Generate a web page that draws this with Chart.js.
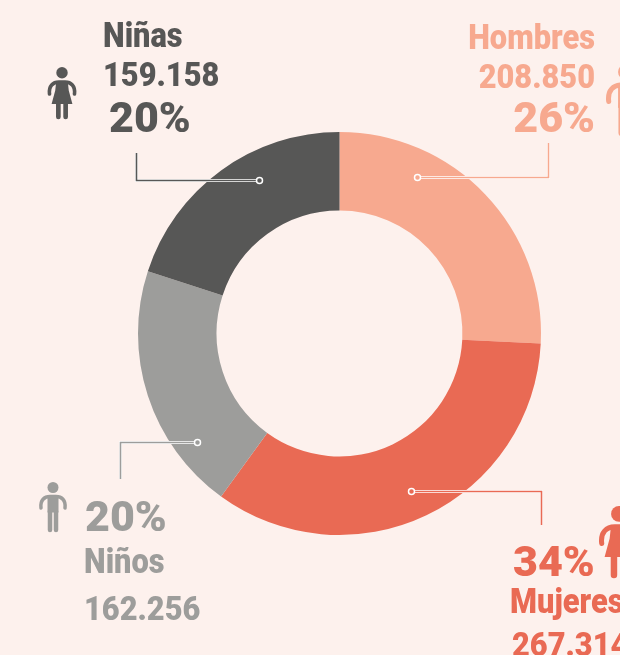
<!DOCTYPE html>
<html>
<head>
<meta charset="utf-8">
<script src="https://cdn.jsdelivr.net/npm/chart.js@4"></script>
<style>
  html, body { margin: 0; padding: 0; background: #fdf1ed; overflow: hidden; }
  #wrap { width: 620px; height: 655px; position: relative; }
</style>
</head>
<body>
<div id="wrap"><canvas id="donut" width="620" height="655"></canvas></div>
<script>
const categories = ["Hombres", "Mujeres", "Niños", "Niñas"];
// slice shares as drawn in the picture
const shares = [25.8, 34.2, 20, 20];
const valueLabels = ["208.850", "267.314", "162.256", "159.158"];
const percentLabels = ["26%", "34%", "20%", "20%"];
const colors = ["#f7a98f", "#e96a54", "#9d9d9b", "#575756"];

// text placement: [x, baseline y, align, size, horizontal squeeze]
const nameText = [
  [595, 49, "right", 35, 0.88],
  [510, 613, "left", 35, 0.88],
  [84, 573, "left", 35, 0.88],
  [103, 47, "left", 35, 0.88]
];
const valueText = [
  [595, 88, "right", 34, 0.905],
  [512, 656, "left", 34, 0.905],
  [84, 620, "left", 34, 0.905],
  [103, 86, "left", 34, 0.905]
];
const percentText = [
  [595, 132, "right", 43, 1],
  [513, 576, "left", 43, 1],
  [85, 531, "left", 43, 1],
  [109, 132, "left", 43, 1]
];
// leader lines: dot, elbow, end
const leaders = [
  [[417.5, 177.5], [548.5, 177.5], [548.5, 143]],
  [[411.5, 491.5], [541.5, 491.5], [541.5, 525]],
  [[197.5, 442.5], [120.5, 442.5], [120.5, 479]],
  [[259.5, 180.5], [136.5, 180.5], [136.5, 153]]
];
// icons: center x, top, height, woman?
const icons = [
  [626, 64, 72, false],
  [619, 506, 72, true],
  [53, 482, 50, false],
  [62, 67, 52, true]
];

function person(ctx, cx, top, h, color, woman) {
  const u = h / 100;
  ctx.save();
  ctx.translate(cx, top);
  ctx.scale(u, u);
  ctx.fillStyle = color;
  ctx.strokeStyle = color;
  ctx.lineCap = "round";
  ctx.beginPath();
  ctx.arc(0, 11, 11, 0, Math.PI * 2);
  ctx.fill();
  // arms
  ctx.lineWidth = 7;
  ctx.beginPath();
  ctx.moveTo(-24, 52);
  ctx.bezierCurveTo(-26, 36, -17, 29, -6, 29);
  ctx.lineTo(6, 29);
  ctx.bezierCurveTo(17, 29, 26, 36, 24, 52);
  ctx.stroke();
  ctx.lineWidth = 9;
  if (woman) {
    ctx.beginPath();
    ctx.moveTo(-11, 27);
    ctx.lineTo(11, 27);
    ctx.lineTo(13, 45);
    ctx.lineTo(20, 71);
    ctx.lineTo(-20, 71);
    ctx.lineTo(-13, 45);
    ctx.closePath();
    ctx.fill();
    ctx.beginPath();
    ctx.moveTo(-7, 71);
    ctx.lineTo(-7, 96);
    ctx.moveTo(7, 71);
    ctx.lineTo(7, 96);
    ctx.stroke();
  } else {
    ctx.fillRect(-11, 27, 22, 34);
    ctx.beginPath();
    ctx.moveTo(-6, 58);
    ctx.lineTo(-6, 96);
    ctx.moveTo(6, 58);
    ctx.lineTo(6, 96);
    ctx.stroke();
  }
  ctx.restore();
}

function label(ctx, text, spec, color) {
  ctx.save();
  ctx.translate(spec[0], spec[1]);
  ctx.scale(spec[4], 1);
  ctx.font = "900 " + spec[3] + "px Roboto";
  ctx.textAlign = spec[2];
  ctx.textBaseline = "alphabetic";
  ctx.fillStyle = color;
  ctx.fillText(text, 0, 0);
  ctx.restore();
}

const calloutPlugin = {
  id: "callouts",
  afterDraw(chart) {
    const ctx = chart.ctx;
    categories.forEach((cat, i) => {
      const c = colors[i];
      label(ctx, cat, nameText[i], c);
      label(ctx, valueLabels[i], valueText[i], c);
      label(ctx, percentLabels[i], percentText[i], c);
      person(ctx, icons[i][0], icons[i][1], icons[i][2], c, icons[i][3]);

      const pts = leaders[i];
      const path = () => {
        ctx.beginPath();
        ctx.moveTo(pts[0][0], pts[0][1]);
        ctx.lineTo(pts[1][0], pts[1][1]);
        ctx.lineTo(pts[2][0], pts[2][1]);
      };
      ctx.save();
      ctx.strokeStyle = "#ffffff";
      ctx.lineWidth = 3;
      path();
      ctx.stroke();
      ctx.strokeStyle = c;
      ctx.lineWidth = 1.6;
      path();
      ctx.stroke();
      ctx.beginPath();
      ctx.arc(pts[0][0], pts[0][1], 3, 0, Math.PI * 2);
      ctx.fillStyle = c;
      ctx.fill();
      ctx.strokeStyle = "#ffffff";
      ctx.lineWidth = 1.5;
      ctx.stroke();
      ctx.restore();
    });
  }
};

new Chart(document.getElementById("donut"), {
  type: "doughnut",
  data: {
    labels: categories,
    datasets: [{
      data: shares,
      backgroundColor: colors,
      borderWidth: 0
    }]
  },
  options: {
    responsive: false,
    animation: false,
    cutout: "61%",
    layout: { padding: { left: 138, right: 79, top: 132, bottom: 120 } },
    plugins: { legend: { display: false }, tooltip: { enabled: false } }
  },
  plugins: [calloutPlugin]
});
</script>
</body>
</html>
